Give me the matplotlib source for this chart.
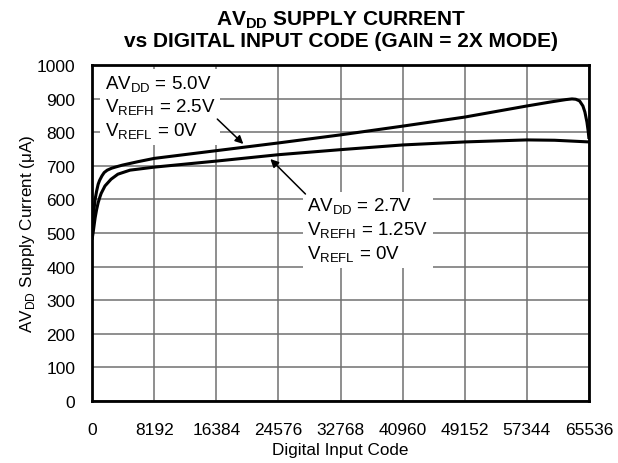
import matplotlib
matplotlib.use('Agg')
import matplotlib.pyplot as plt

# 数据：曲线点（数字输入码, 电流 μA）
CODE_5V = [0, 60, 150, 250, 400, 600, 800, 1000, 1300, 1600, 2000, 2600, 3200, 4000,
           6000, 8192, 16384, 24576, 32768, 40960, 49152, 57344, 60500, 62500, 63300,
           63800, 64300, 64740, 65000, 65270, 65450, 65536]
CURR_5V = [485, 515, 545, 570, 600, 625, 645, 657, 670, 680, 687, 693, 697, 702,
           712, 722, 745, 768, 792, 818, 845, 878, 890, 897, 899, 898, 893, 878, 860,
           830, 800, 780]

CODE_27V = [0, 60, 150, 250, 400, 600, 800, 1000, 1200, 1700, 2500, 3400, 5000,
            8192, 16384, 24576, 32768, 40960, 49152, 57344, 61000, 65536]
CURR_27V = [480, 490, 503, 520, 545, 570, 590, 605, 618, 640, 660, 675, 687,
            696, 714, 733, 748, 762, 771, 777, 776, 771]

X_TICKS = [0, 8192, 16384, 24576, 32768, 40960, 49152, 57344, 65536]
Y_TICKS = list(range(0, 1001, 100))

TITLE = 'AV$_\\mathregular{DD}$ SUPPLY CURRENT\nvs DIGITAL INPUT CODE (GAIN = 2X MODE)'
LABEL_5V = ('AV$_\\mathregular{DD}$ = 5.0V\nV$_\\mathregular{REFH}$ = 2.5V\n'
            'V$_\\mathregular{REFL}$ = 0V')
LABEL_27V = ('AV$_\\mathregular{DD}$ = 2.7V\nV$_\\mathregular{REFH}$ = 1.25V\n'
             'V$_\\mathregular{REFL}$ = 0V')

plt.rcParams['font.family'] = ['Liberation Sans', 'DejaVu Sans']
plt.rcParams['mathtext.fontset'] = 'custom'
plt.rcParams['mathtext.rm'] = 'Liberation Sans'
plt.rcParams['mathtext.bf'] = 'Liberation Sans:bold'

fig = plt.figure(figsize=(6.18, 4.64), dpi=100)
ax = fig.add_axes([0.149, 0.1336, 0.804, 0.7242])

ax.plot(CODE_5V, CURR_5V, color='black', lw=2.2, solid_capstyle='butt', zorder=4)
ax.plot(CODE_27V, CURR_27V, color='black', lw=2.2, solid_capstyle='butt', zorder=4)

ax.set_xlim(0, 65536)
ax.set_ylim(0, 1000)
ax.set_xticks(X_TICKS)
ax.set_yticks(Y_TICKS)
ax.tick_params(length=0, labelsize=12.5)
ax.tick_params(axis='x', pad=15)
ax.tick_params(axis='y', pad=12)
ax.grid(True, color='#707070', lw=1.1)
ax.set_axisbelow(True)
for s in ax.spines.values():
    s.set_linewidth(2)
    s.set_zorder(5)

ax.set_xlabel('Digital Input Code', fontsize=12.3, labelpad=4)
ax.set_ylabel('AV$_\\mathregular{DD}$ Supply Current (\u03bcA)', fontsize=12.3, labelpad=0)
ax.set_title(TITLE, fontsize=15, fontweight='bold', linespacing=1.02, pad=14)

box = dict(facecolor='white', edgecolor='none', pad=3)
ax.text(1650, 975, LABEL_5V, fontsize=13.5, va='top', ha='left', linespacing=1.22,
        bbox=box, zorder=3)
ax.text(28400, 610, LABEL_27V, fontsize=13.5, va='top', ha='left', linespacing=1.22,
        bbox=box, zorder=3)

arrow = dict(arrowstyle='-|>', color='black', lw=1.1, mutation_scale=12,
             shrinkA=0, shrinkB=0)
ax.annotate('', xy=(19950, 765), xytext=(16516, 839), arrowprops=arrow, zorder=6)
ax.annotate('', xy=(23518, 720), xytext=(28143, 616), arrowprops=arrow, zorder=6)

fig.savefig('out.png', dpi=100)
